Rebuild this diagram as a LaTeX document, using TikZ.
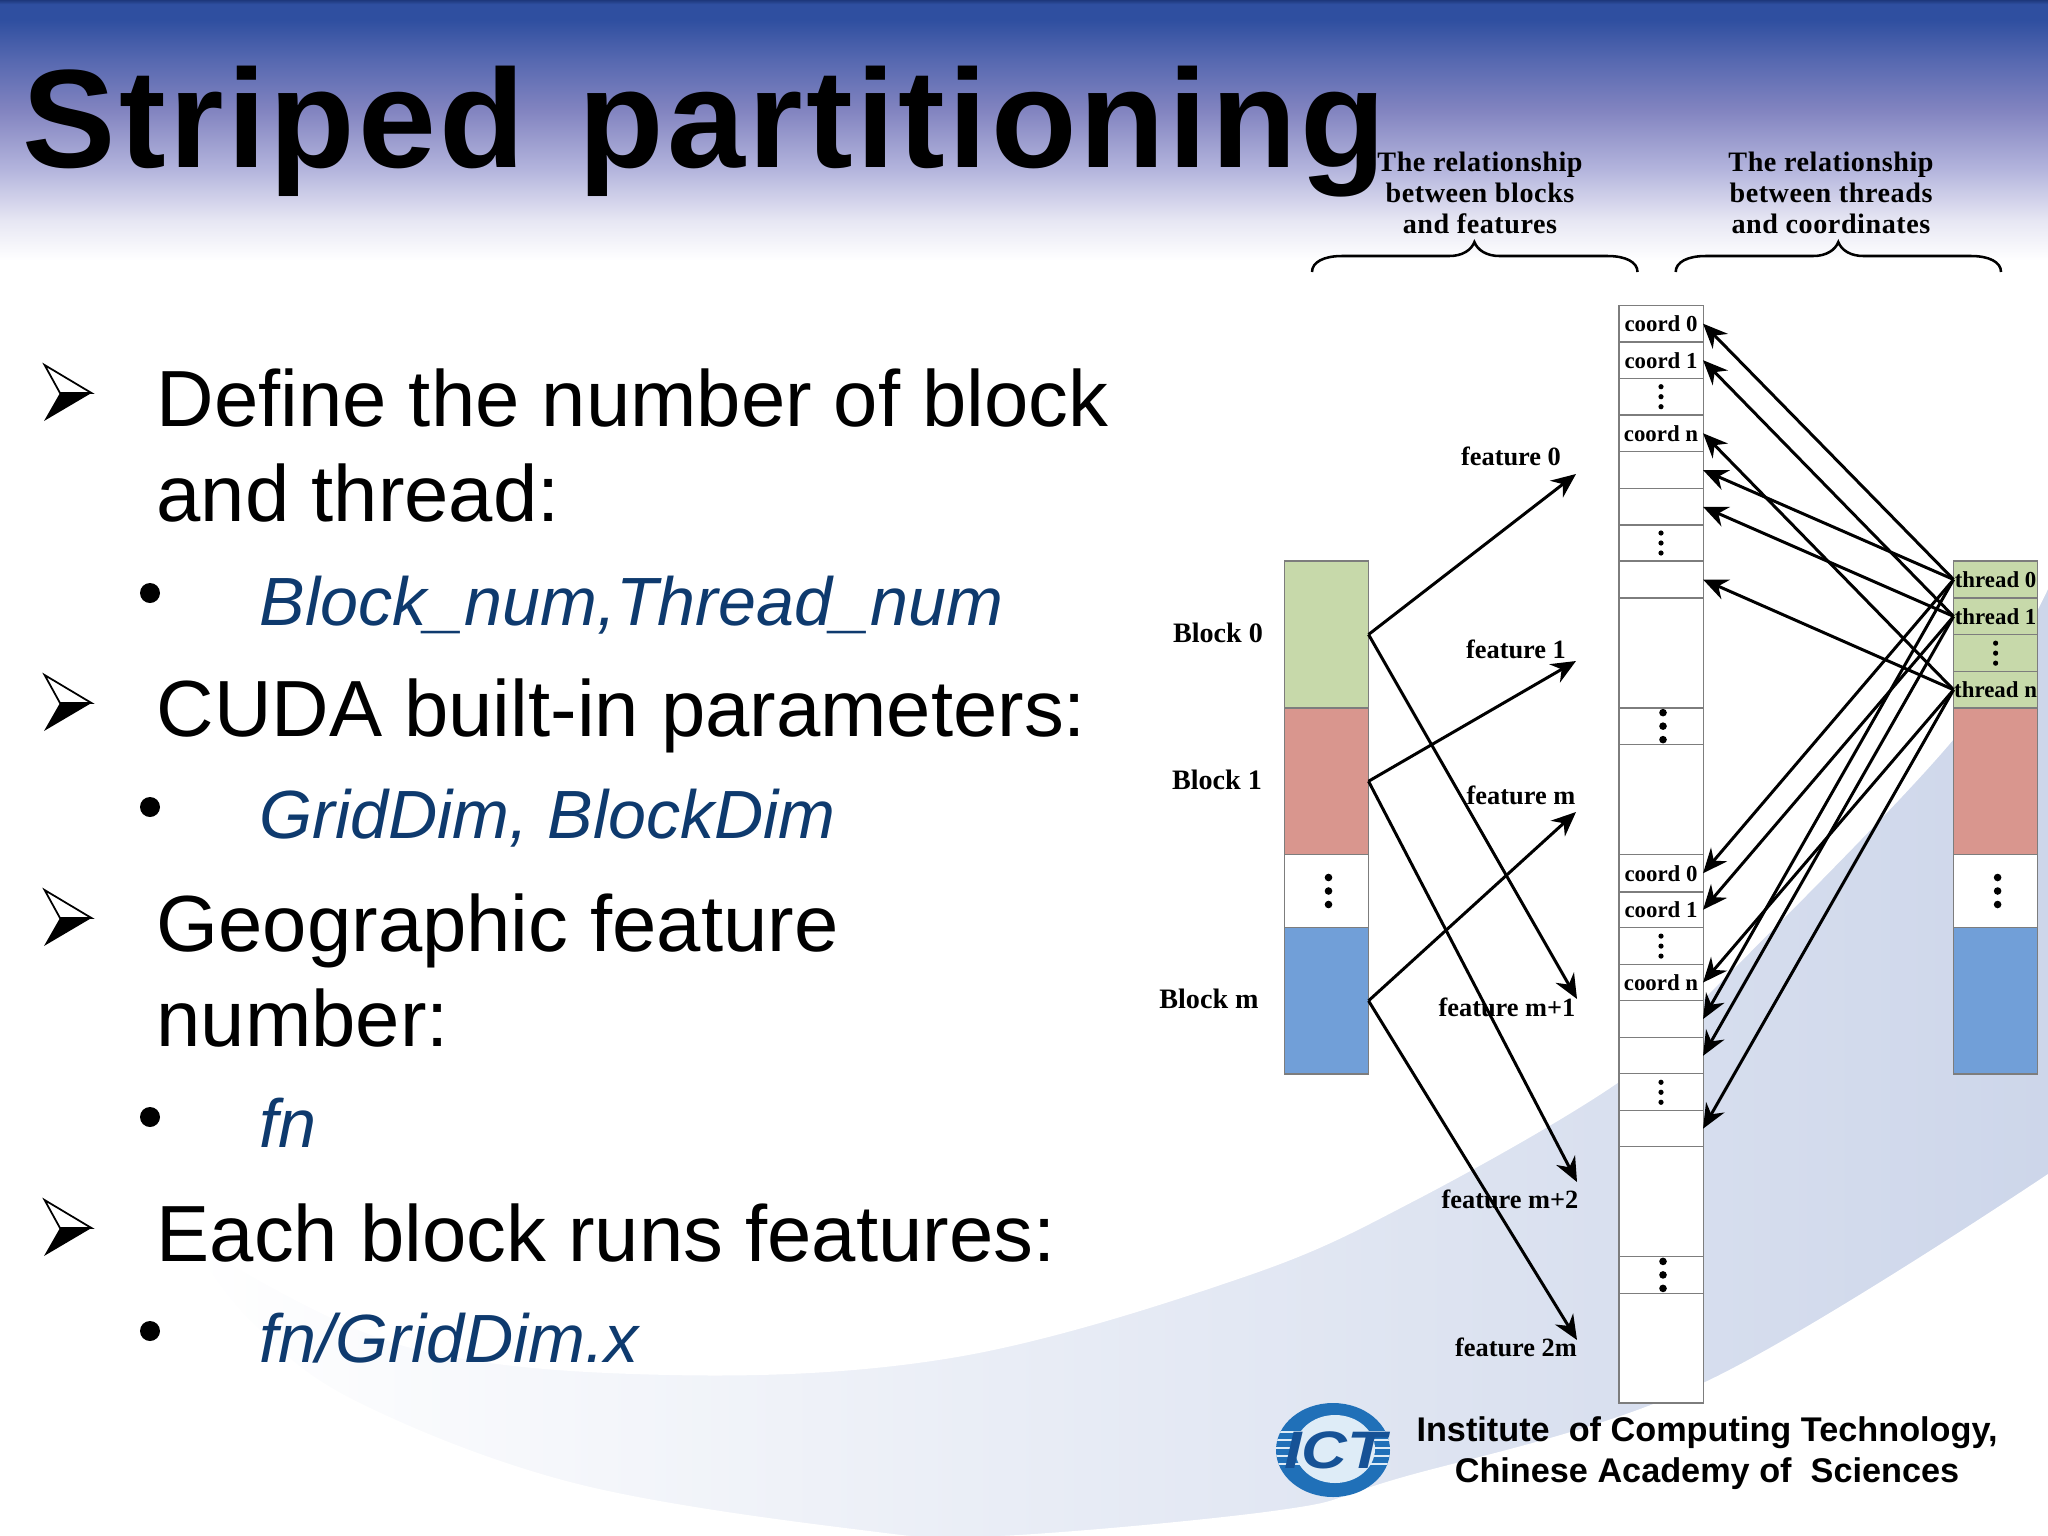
\documentclass[tikz,border=0pt]{standalone}
\usepackage{fontspec}
\usepackage{tikz}
\usetikzlibrary{arrows.meta}
\setmainfont{Liberation Sans}
\newfontfamily\titlefont[LetterSpace=2.45,WordSpace=1.25]{Liberation Sans}
\newfontfamily\figfont{Liberation Serif}
\newfontfamily\headfont[LetterSpace=2]{Liberation Serif}
\definecolor{band_dark}{RGB}{30,56,124}
\definecolor{band_top}{RGB}{47,79,160}
\definecolor{band_a}{RGB}{86,104,176}
\definecolor{band_b}{RGB}{130,132,192}
\definecolor{band_c}{RGB}{180,181,221}
\definecolor{band_d}{RGB}{230,230,243}
\definecolor{block_green}{RGB}{199,217,170}
\definecolor{block_red}{RGB}{217,150,142}
\definecolor{block_blue}{RGB}{113,159,216}
\definecolor{edge_gray}{RGB}{125,125,125}
\definecolor{swoosh_blue}{RGB}{205,214,234}
\definecolor{sub_blue}{RGB}{14,58,110}
\definecolor{logo_blue}{RGB}{32,112,184}
\definecolor{logo_dark}{RGB}{22,82,150}
\definecolor{logo_pale}{RGB}{222,236,247}
\pgfdeclareverticalshading{topband}{100bp}{color(0bp)=(white); color(25bp)=(white); color(32.7bp)=(band_d); color(42.3bp)=(band_c); color(53.8bp)=(band_b); color(63.5bp)=(band_a); color(71.2bp)=(band_top); color(74.2bp)=(band_top); color(75bp)=(band_dark); color(100bp)=(band_dark)}
\tikzset{
	title/.style={anchor=base west,inner sep=0,font=\titlefont\bfseries\fontsize{39.8}{40}\selectfont},
	mainline/.style={anchor=base west,inner sep=0,font=\fontsize{22.65}{24}\selectfont},
	subline/.style={anchor=base west,inner sep=0,text=sub_blue,font=\itshape\fontsize{19.4}{22}\selectfont},
	footer/.style={inner sep=0,font=\bfseries\fontsize{9.74}{12}\selectfont},
	header/.style={inner sep=0,align=center,font=\headfont\bfseries\fontsize{8}{8.9}\selectfont},
	blocklabel/.style={inner sep=0,font=\figfont\bfseries\fontsize{8}{9}\selectfont},
	featurelabel/.style={inner sep=0,font=\figfont\bfseries\fontsize{7.5}{9}\selectfont},
	cell/.style={rectangle,draw=edge_gray,line width=0.3pt,inner sep=0,outer sep=0,font=\figfont\bfseries\fontsize{6.5}{8}\selectfont},
	link/.style={-{Stealth[length=7pt,width=6pt]},line width=0.85pt,black},
	bracket/.style={line width=0.72pt,black}
}
\begin{document}
\begin{tikzpicture}[x=0.01cm,y=-0.01cm]
	\useasboundingbox (0,0) rectangle (2048,1536);
	\fill[white] (0,0) rectangle (2048,1536);
	\fill[left color=white,right color=swoosh_blue] (190,580) rectangle (2048,1536);
	\fill[white,even odd rule] (180,570) rectangle (2060,1546) plot[smooth,tension=0.6] coordinates {(190,1240) (400,1345) (670,1375) (957,1357) (1244,1277) (1416,1200) (1619,1082) (1703,1000) (1953,740) (2048,589)} -- (2100,589) -- (2100,1140) -- plot[smooth,tension=0.6] coordinates {(2048,1174) (1703,1383) (1393,1480) (1280,1510) (1000,1536) (861,1530) (574,1483) (354,1400) (250,1320) (190,1240)} -- cycle;
	\fill[shading=topband] (0,0) rectangle (2048,260);

	\node[title] (title) at (22,167) {Striped partitioning};

	\foreach \n/\y/\txt in {m1/426/Define the number of block,m2/521/and thread:,m3/736/CUDA built-in parameters:,m4/951/Geographic feature,m5/1046/number:,m6/1261/Each block runs features:}
		\node[mainline] (\n) at (156,\y) {\txt};
	\foreach \n/\y/\txt in {s1/625/Block\_num{,}Thread\_num,s2/838/{GridDim, BlockDim},s3/1147/fn,s4/1362/{fn/GridDim.x}}
		\node[subline] (\n) at (259,\y) {\txt};
	\foreach \y in {593,807,1117,1331}
		\fill[black] (150,\y) ellipse (10 and 10);
	\foreach \y in {393,703,918,1228}
	{
		\draw[black,line width=0.5pt,line join=miter] (44.6,\y-28) -- (91.5,\y) -- (60,\y) -- cycle;
		\fill[black] (91.5,\y) -- (44,\y+28) -- (60,\y) -- cycle;
	}

	\foreach \n/\a/\c/\b/\x/\txt in {head1/1312/1474.4/1637.5/1480/{The relationship\\between blocks\\and features},head2/1675.7/1838.3/2001/1831/{The relationship\\between threads\\and coordinates}}
	{
		\node[header] (\n) at (\x,193) {\txt};
		\draw[bracket] (\a,272) .. controls (\a,262) and (\a+12,256) .. (\a+30,256) -- (\c-25,256) .. controls (\c-12,256) and (\c-3,250) .. (\c,242) .. controls (\c+3,250) and (\c+12,256) .. (\c+25,256) -- (\b-30,256) .. controls (\b-12,256) and (\b,262) .. (\b,272);
	}

	\foreach \n/\t/\b/\col in {block0/561/708/block_green,block1/708/854.5/block_red,blockdots/854.5/927.5/white,blockm/927.5/1074/block_blue}
		\node[cell,fill=\col,minimum width=0.84cm,minimum height={(\b-\t)*0.01cm}] (\n) at (1326.5,{(\t+\b)/2}) {};
	\foreach \n/\t/\b/\col/\txt in {thread0/561/598/block_green/thread 0,thread1/598/634.8/block_green/thread 1,threaddots/634.8/671.5/block_green/,threadn/671.5/708/block_green/thread n,thread2/708/854.5/block_red/,thread3/854.5/927.5/white/,thread4/927.5/1074/block_blue/}
		\node[cell,fill=\col,minimum width=0.84cm,minimum height={(\b-\t)*0.01cm}] (\n) at (1995.6,{(\t+\b)/2}) {\txt};

	\foreach \n/\t/\b/\txt in {a0/305.3/342/coord 0,a1/342/378.4/coord 1,a2/378.4/415/,an/415/451.5/coord n,ab0/451.5/488.6/,ab1/488.6/525/,a3/525/561/,abn/561/598/,a4/598/708/,a5/708/744.3/,a6/744.3/854.5/,c0/854.5/892/coord 0,c1/892/927.5/coord 1,c2/927.5/964.7/,cn/964.7/1000.4/coord n,cb0/1000.4/1037.7/,cb1/1037.7/1073.9/,c3/1073.9/1110.6/,cbn/1110.6/1146.8/,c4/1146.8/1256.5/,c5/1256.5/1293.3/,c6/1293.3/1403/}
		\node[cell,fill=white,minimum width=0.84cm,minimum height={(\b-\t)*0.01cm}] (\n) at (1661,{(\t+\b)/2}) {\txt};

	\foreach \c in {a2,a3,c2,c3,threaddots}
		\foreach \d in {-10,0,10}
			\fill[black] ([yshift={\d*0.01cm}]\c.center) circle (2.6);
	\foreach \c in {a5,c5,blockdots,thread3}
		\foreach \d in {-13.5,0,13.5}
			\fill[black] ([xshift=0.02cm,yshift={\d*0.01cm}]\c.center) circle (3.8);

	\foreach \n/\y/\txt/\x in {lab0/633/Block 0/1218,lab1/780/Block 1/1217,labm/999/Block m/1209}
		\node[blocklabel] (\n) at (\x,\y) {\txt};

	\foreach \n/\x/\y/\txt in {feat0/1511/456/feature 0,feat1/1516/649/feature 1,featm/1521/795/feature m,featm1/1507/1007/feature m+1,featm2/1510/1199/feature m+2,feat2m/1516/1347/feature 2m}
		\node[featurelabel] (\n) at (\x,\y) {\txt};

	\coordinate (tip0) at (1576,474);
	\coordinate (tip1) at (1576,661);
	\coordinate (tipm) at (1576,812);
	\coordinate (tipm1) at (1577,999);
	\coordinate (tipm2) at (1577,1182);
	\coordinate (tip2m) at (1577,1340);

	\foreach \x/\y in {block0/tip0,block0/tipm1,block1/tip1,block1/tipm2,blockm/tipm,blockm/tip2m}
		\draw[link] (\x.east) -- (\y);
	\foreach \x/\y in {thread0/a0,thread1/a1,threadn/an,thread0/ab0,thread1/ab1,threadn/abn,thread0/c0,thread1/c1,threadn/cn,thread0/cb0,thread1/cb1,threadn/cbn}
		\draw[link] (\x.west) -- (\y.east);

	\fill[logo_blue] (1333,1450) ellipse (57 and 47);
	\begin{scope}
		\clip (1333,1450) ellipse (57 and 47);
		\foreach \y in {1432,1440,1448,1456,1464}
			\draw[logo_pale,line width=0.45pt] (1270,\y) -- (1395,\y);
	\end{scope}
	\fill[logo_pale] (1335,1449) ellipse (40 and 34);
	\node[inner sep=0,text=logo_dark,font=\bfseries\itshape\fontsize{15}{15}\selectfont] (logo) at (1335,1450) {\scalebox{1.2}[1]{ICT}};

	\node[footer] (foot1) at (1707,1433) {Institute\ \ of Computing Technology,};
	\node[footer] (foot2) at (1707,1474) {Chinese Academy of\ \ Sciences};
\end{tikzpicture}
\end{document}
